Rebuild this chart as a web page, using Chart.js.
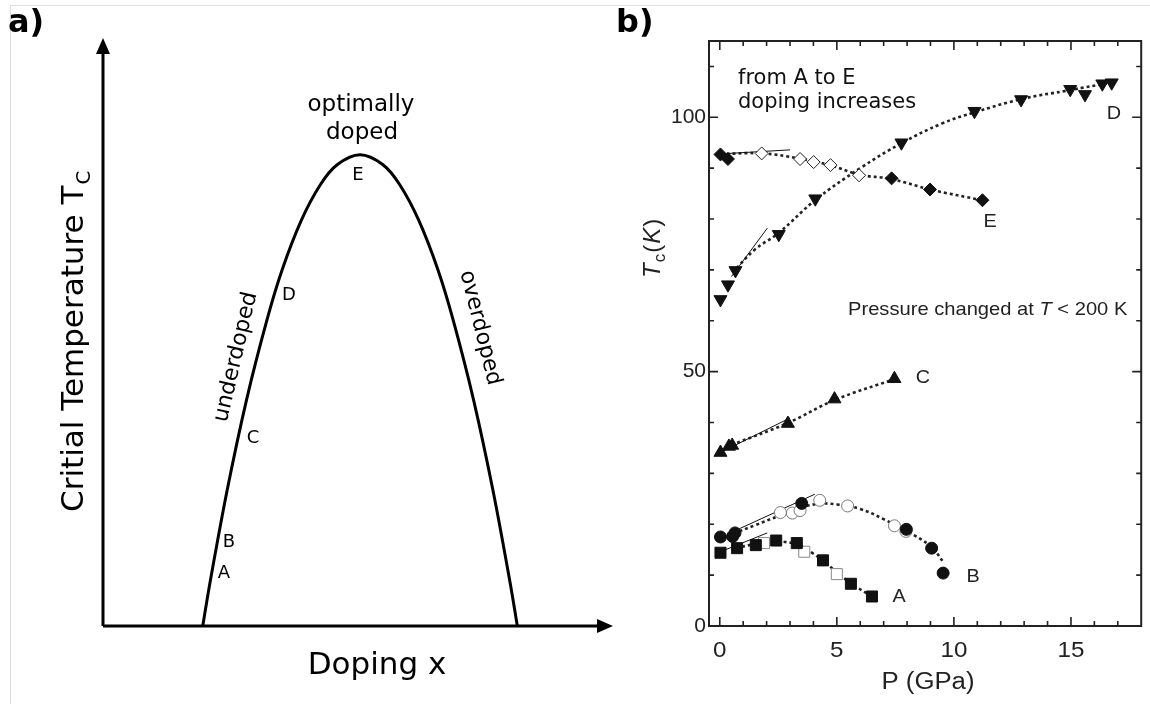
<!DOCTYPE html>
<html>
<head>
<meta charset="utf-8">
<script src="https://cdn.jsdelivr.net/npm/chart.js@4.4.1/dist/chart.umd.min.js"></script>
<style>
  html, body { margin: 0; padding: 0; background: #fff; }
  #wrap { position: relative; width: 1150px; height: 704px; overflow: hidden; }
  #wrap canvas { position: absolute; left: 0; top: 0; }
  #edge { position: absolute; left: 10px; top: 5px; right: 0; bottom: 0; border-top: 1px solid #ddd; border-left: 1px solid #ddd; }
</style>
</head>
<body>
<div id="wrap">
  <div id="edge"></div>
  <canvas id="dome" width="1150" height="704"></canvas>
  <canvas id="pressure" width="1150" height="704"></canvas>
</div>
<script>
// ---- panel a: schematic dome (arbitrary units) ----
const dopingX = [1.96, 2.10, 2.44, 2.82, 3.22, 3.52, 3.90, 4.27, 4.60, 5.05, 5.50, 5.83, 6.20, 6.58, 6.88, 7.28, 7.66, 8.00, 8.14];
const tcDome  = [0.00, 0.73, 2.32, 3.86, 5.22, 6.08, 6.93, 7.53, 7.87, 8.04, 7.87, 7.53, 6.93, 6.08, 5.22, 3.86, 2.32, 0.73, 0.00];

// ---- panel b: Tc (K) vs P (GPa) ----
const aP = [0.03, 0.74, 1.54, 2.41, 3.29, 4.41, 5.6, 6.5];
const aT = [14.4, 15.3, 15.9, 16.8, 16.3, 12.9, 8.3, 5.8];
const aOpenP = [1.89, 3.61, 5.0];
const aOpenT = [16.3, 14.6, 10.2];
const aFitP = [0.7, 1.5, 2.4, 3.3, 4.0, 5.0, 5.6, 6.4];
const aFitT = [15.3, 16.1, 16.6, 16.0, 14.2, 10.6, 8.4, 6.1];
const aTanP = [0.03, 2.03];
const aTanT = [14.6, 18.3];

const bP = [0.03, 0.55, 0.65, 3.5, 7.97, 9.05, 9.54];
const bT = [17.5, 17.6, 18.3, 24.1, 19.0, 15.3, 10.4];
const bOpenP = [2.59, 3.1, 3.43, 4.27, 5.46, 7.46, 7.95];
const bOpenT = [22.3, 22.2, 22.7, 24.7, 23.6, 19.7, 18.6];
const bFitP = [0.6, 1.5, 2.5, 3.4, 4.2, 5.0, 6.0, 7.0, 8.0, 9.0, 9.55];
const bFitT = [18.2, 19.8, 21.6, 23.2, 24.0, 23.9, 23.0, 21.0, 18.6, 15.7, 12.6];
const bTanP = [0.59, 4.06];
const bTanT = [18.6, 25.9];

const cP = [0.03, 0.39, 0.53, 2.91, 4.9, 7.46];
const cT = [34.1, 35.3, 35.5, 39.8, 44.6, 48.6];
const cFitP = [0.5, 2.9, 4.9, 7.5];
const cFitT = [35.6, 39.9, 44.4, 48.6];
const cTanP = [0.03, 3.0];
const cTanT = [34.1, 40.9];

const dP = [0.03, 0.35, 0.67, 2.52, 4.08, 7.76, 10.88, 12.87, 14.97, 15.6, 16.34, 16.74];
const dT = [64.2, 67.1, 69.9, 77.0, 84.0, 95.0, 101.2, 103.5, 105.5, 104.5, 106.6, 106.8];
const dFitP = [0.55, 1.5, 2.5, 4.1, 6.0, 7.8, 9.5, 10.9, 12.9, 14.9, 16.8];
const dFitT = [69.5, 74.0, 77.2, 83.8, 90.0, 95.0, 98.8, 101.0, 103.6, 105.3, 106.9];
const dTanP = [0.5, 2.03];
const dTanT = [68.7, 78.2];

const eP = [0.03, 0.35, 7.34, 8.98, 11.22];
const eT = [92.7, 91.8, 88.0, 85.8, 83.7];
const eOpenP = [1.79, 3.43, 4.01, 4.73, 5.95];
const eOpenT = [92.9, 91.8, 91.2, 90.6, 88.6];
const eFitP = [0.03, 1.8, 3.4, 4.7, 6.0, 7.3, 9.0, 11.2];
const eFitT = [92.8, 92.9, 91.9, 90.6, 88.7, 87.9, 85.8, 83.7];
const eTanP = [0.03, 3.0];
const eTanT = [92.8, 93.6];

const pLabelTicks = [0, 5, 10, 15];
const pMinorTicks = [0, 1, 2, 3, 4, 5, 6, 7, 8, 9, 10, 11, 12, 13, 14, 15, 16, 17];
const tcLabelTicks = [0, 50, 100];
const tcMinorTicks = [10, 20, 30, 40, 50, 60, 70, 80, 90, 100, 110];

const zip = (xs, ys) => xs.map((v, i) => ({ x: v, y: ys[i] }));

const DEJA = '"DejaVu Sans", sans-serif';
const HELV = '"Liberation Sans", Arial, sans-serif';

// draw text squeezed/stretched horizontally (the scanned panel b is a bit wide)
function stretchText(ctx, txt, x, y, align, sx) {
  ctx.save();
  ctx.translate(x, y);
  ctx.scale(sx, 1);
  ctx.textAlign = align;
  ctx.fillText(txt, 0, 0);
  ctx.restore();
}

// ------------------------------------------------ panel a
const domeDecor = {
  id: 'domeDecor',
  afterDatasetsDraw(chart) {
    const { ctx, chartArea: a } = chart;
    ctx.save();
    ctx.strokeStyle = '#000';
    ctx.fillStyle = '#000';
    ctx.lineWidth = 3;

    // axes with arrow heads
    ctx.beginPath();
    ctx.moveTo(a.left, a.bottom);
    ctx.lineTo(a.left, a.top + 10);
    ctx.moveTo(a.left, a.bottom);
    ctx.lineTo(a.right - 10, a.bottom);
    ctx.stroke();
    ctx.beginPath();
    ctx.moveTo(a.left, a.top - 2);
    ctx.lineTo(a.left - 7, a.top + 14);
    ctx.lineTo(a.left + 7, a.top + 14);
    ctx.closePath();
    ctx.fill();
    ctx.beginPath();
    ctx.moveTo(a.right + 1, a.bottom);
    ctx.lineTo(a.right - 15, a.bottom - 7);
    ctx.lineTo(a.right - 15, a.bottom + 7);
    ctx.closePath();
    ctx.fill();

    // panel tag
    ctx.font = 'bold 32px ' + DEJA;
    ctx.textAlign = 'left';
    ctx.textBaseline = 'alphabetic';
    ctx.fillText('a)', 8, 32);

    // axis titles
    ctx.font = '31px ' + DEJA;
    ctx.textAlign = 'center';
    ctx.fillText('Doping x', 377, 674);

    ctx.save();
    ctx.translate(83, 512);
    ctx.rotate(-Math.PI / 2);
    ctx.textAlign = 'left';
    ctx.font = '31px ' + DEJA;
    const main = 'Critial Temperature T';
    ctx.fillText(main, 0, 0);
    const w = ctx.measureText(main).width;
    ctx.font = '20px ' + DEJA;
    ctx.fillText('C', w + 1, 7);
    ctx.restore();

    // curve annotations
    ctx.font = '23px ' + DEJA;
    ctx.textAlign = 'center';
    ctx.fillText('optimally', 361, 111);
    ctx.fillText('doped', 362, 139);

    ctx.textBaseline = 'middle';
    ctx.save();
    ctx.translate(236, 357);
    ctx.rotate(-77 * Math.PI / 180);
    ctx.font = '22px ' + DEJA;
    ctx.fillText('underdoped', 0, 0);
    ctx.restore();

    ctx.save();
    ctx.translate(480, 328);
    ctx.rotate(76 * Math.PI / 180);
    ctx.font = '22px ' + DEJA;
    ctx.fillText('overdoped', 0, 0);
    ctx.restore();

    ctx.font = '18px ' + DEJA;
    ctx.fillText('E', 358, 175);
    ctx.fillText('D', 289, 295);
    ctx.fillText('C', 253, 438);
    ctx.fillText('B', 229, 542);
    ctx.fillText('A', 224, 573);
    ctx.restore();
  }
};

new Chart(document.getElementById('dome'), {
  type: 'scatter',
  data: {
    datasets: [{
      data: zip(dopingX, tcDome),
      showLine: true,
      borderColor: '#000',
      borderWidth: 3,
      pointRadius: 0,
      tension: 0.35,
      clip: false,
    }],
  },
  options: {
    responsive: false,
    animation: false,
    layout: { padding: { left: 103, right: 538, top: 40, bottom: 78 } },
    scales: {
      x: { display: false, min: 0, max: 10 },
      y: { display: false, min: 0, max: 10 },
    },
    plugins: { legend: { display: false }, tooltip: { enabled: false } },
  },
  plugins: [domeDecor],
});

// ------------------------------------------------ panel b
const frameDecor = {
  id: 'frameDecor',
  afterDatasetsDraw(chart) {
    const { ctx, chartArea: a, scales: { x, y } } = chart;
    ctx.save();
    ctx.strokeStyle = '#222';
    ctx.fillStyle = '#222';

    // frame + inward ticks on all four sides
    ctx.lineWidth = 2;
    ctx.strokeRect(a.left, a.top, a.right - a.left, a.bottom - a.top);
    ctx.lineWidth = 1.6;
    ctx.beginPath();
    pMinorTicks.forEach((v) => {
      const px = x.getPixelForValue(v);
      const len = pLabelTicks.includes(v) ? 9 : 5;
      ctx.moveTo(px, a.bottom); ctx.lineTo(px, a.bottom - len);
      ctx.moveTo(px, a.top); ctx.lineTo(px, a.top + len);
    });
    tcMinorTicks.forEach((v) => {
      const py = y.getPixelForValue(v);
      const len = tcLabelTicks.includes(v) ? 9 : 5;
      ctx.moveTo(a.left, py); ctx.lineTo(a.left + len, py);
      ctx.moveTo(a.right, py); ctx.lineTo(a.right - len, py);
    });
    ctx.stroke();

    // tick labels
    ctx.textBaseline = 'middle';
    ctx.font = '21px ' + HELV;
    tcLabelTicks.forEach((v) => {
      stretchText(ctx, String(v), a.left - 3, y.getPixelForValue(v), 'right', 1.0);
    });
    ctx.font = '22px ' + HELV;
    pLabelTicks.forEach((v) => {
      stretchText(ctx, String(v), x.getPixelForValue(v), a.bottom + 25, 'center', 1.1);
    });

    // axis titles
    ctx.font = '23px ' + HELV;
    stretchText(ctx, 'P (GPa)', 928, 683, 'center', 1.12);

    ctx.save();
    ctx.translate(660, 278);
    ctx.rotate(-Math.PI / 2);
    ctx.textBaseline = 'alphabetic';
    ctx.textAlign = 'left';
    let cx = 0;
    const runs = [
      ['T', 'italic 24px ' + HELV, 0],
      ['c', '17px ' + HELV, 5],
      ['(', '24px ' + HELV, 0],
      ['K', 'italic 24px ' + HELV, 0],
      [')', '24px ' + HELV, 0],
    ];
    runs.forEach(([t, f, dy]) => {
      ctx.font = f;
      ctx.fillText(t, cx, dy);
      cx += ctx.measureText(t).width + 1;
    });
    ctx.restore();

    // notes
    ctx.fillStyle = '#111';
    ctx.textBaseline = 'alphabetic';
    ctx.font = '21px ' + DEJA;
    ctx.textAlign = 'left';
    ctx.fillText('from A to E', 738, 84);
    ctx.fillText('doping increases', 738, 108);

    ctx.fillStyle = '#222';
    ctx.save();
    ctx.translate(848, 315);
    ctx.scale(1.06, 1);
    let nx = 0;
    [['Pressure changed at ', '19px ' + HELV], ['T', 'italic 19px ' + HELV], [' < 200 K', '19px ' + HELV]]
      .forEach(([t, f]) => {
        ctx.font = f;
        ctx.fillText(t, nx, 0);
        nx += ctx.measureText(t).width;
      });
    ctx.restore();

    // series letters
    ctx.font = '18px ' + HELV;
    ctx.textBaseline = 'middle';
    stretchText(ctx, 'D', 1114, 114, 'center', 1.1);
    stretchText(ctx, 'E', 990, 222, 'center', 1.1);
    stretchText(ctx, 'C', 923, 378, 'center', 1.1);
    stretchText(ctx, 'B', 973, 577, 'center', 1.1);
    stretchText(ctx, 'A', 899, 597, 'center', 1.1);

    // panel tag
    ctx.fillStyle = '#000';
    ctx.textBaseline = 'alphabetic';
    ctx.font = 'bold 32px ' + DEJA;
    ctx.textAlign = 'left';
    ctx.fillText('b)', 616, 32);
    ctx.restore();
  }
};

const dotted = (xs, ys) => ({
  data: zip(xs, ys), showLine: true, pointRadius: 0,
  borderColor: '#222', borderWidth: 2.6, borderDash: [3, 3],
  tension: 0.4, order: 3,
});
const tangent = (xs, ys) => ({
  data: zip(xs, ys), showLine: true, pointRadius: 0,
  borderColor: '#111', borderWidth: 1, order: 2,
});
const filled = (xs, ys, style, r, rot) => ({
  data: zip(xs, ys), showLine: false, pointStyle: style, pointRadius: r,
  rotation: rot || 0, backgroundColor: '#111', borderColor: '#111', borderWidth: 1, order: 0,
});
const hollow = (xs, ys, style, r, edge) => ({
  data: zip(xs, ys), showLine: false, pointStyle: style, pointRadius: r,
  backgroundColor: '#fff', borderColor: edge, borderWidth: 1, order: 1,
});

new Chart(document.getElementById('pressure'), {
  type: 'scatter',
  data: {
    datasets: [
      filled(aP, aT, 'rect', 7.8),
      filled(bP, bT, 'circle', 6),
      filled(cP, cT, 'triangle', 7.5),
      filled(dP, dT, 'triangle', 7.5, 180),
      filled(eP, eT, 'rectRot', 6.5),
      hollow(aOpenP, aOpenT, 'rect', 7.8, '#888'),
      hollow(bOpenP, bOpenT, 'circle', 6, '#777'),
      hollow(eOpenP, eOpenT, 'rectRot', 6.5, '#222'),
      tangent(aTanP, aTanT),
      tangent(bTanP, bTanT),
      tangent(cTanP, cTanT),
      tangent(dTanP, dTanT),
      tangent(eTanP, eTanT),
      dotted(aFitP, aFitT),
      dotted(bFitP, bFitT),
      dotted(cFitP, cFitT),
      dotted(dFitP, dFitT),
      dotted(eFitP, eFitT),
    ],
  },
  options: {
    responsive: false,
    animation: false,
    layout: { padding: { left: 709, right: 2, top: 41, bottom: 78 } },
    scales: {
      x: { display: false, min: -0.46, max: 18.0 },
      y: { display: false, min: 0, max: 115 },
    },
    plugins: { legend: { display: false }, tooltip: { enabled: false } },
  },
  plugins: [frameDecor],
});
</script>
</body>
</html>
